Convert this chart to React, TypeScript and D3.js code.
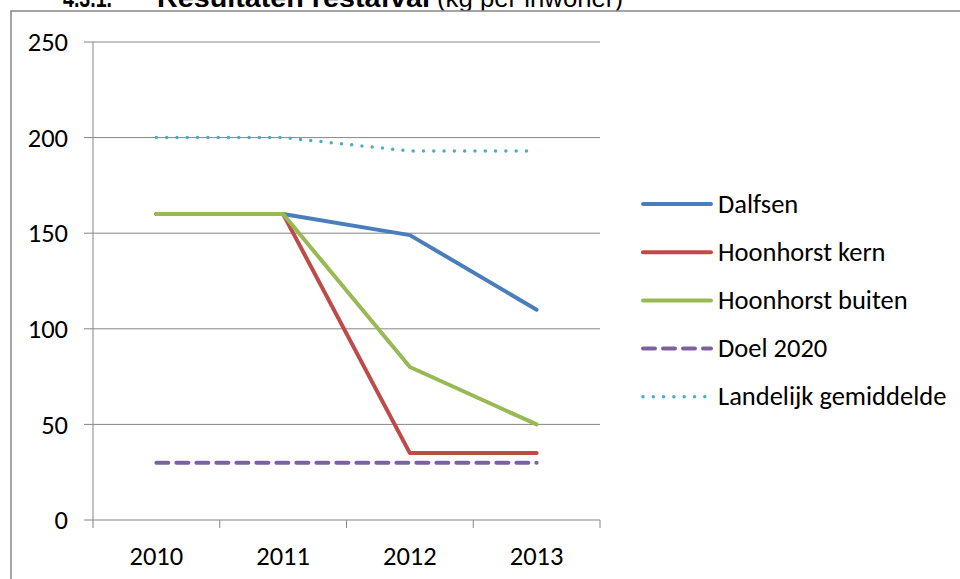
import React from "react";
import * as d3 from "d3";

const years = ["2010", "2011", "2012", "2013"];
const dalfsen = [160, 160, 149, 110];
const hoonhorstKern = [160, 160, 35, 35];
const hoonhorstBuiten = [160, 160, 80, 50];
const doel2020 = [30, 30, 30, 30];
const landelijk = [200, 200, 193, 193];
const yTicks = [0, 50, 100, 150, 200, 250];

const seriesNames = ["Dalfsen", "Hoonhorst kern", "Hoonhorst buiten", "Doel 2020", "Landelijk gemiddelde"];
const seriesValues = [dalfsen, hoonhorstKern, hoonhorstBuiten, doel2020, landelijk];
const seriesColors = ["#4A7EBB", "#BE4B48", "#98B954", "#7D60A0", "#4BACC6"];
const seriesDash = [null, null, null, "12 8", "0 10.3"];

const W = 960;
const H = 579;
const plot = { left: 93, right: 600, top: 42, bottom: 520 };
const FONT = "Carlito, Lato, 'Liberation Sans', sans-serif";
const FS = 26.5;

export default function App() {
  const x = d3.scaleBand<string>().domain(years).range([plot.left, plot.right]);
  const y = d3.scaleLinear().domain([0, 250]).range([plot.bottom, plot.top]);
  const cx = (yr: string) => (x(yr) as number) + x.bandwidth() / 2;
  const line = d3
    .line<number>()
    .x((_, i) => cx(years[i]))
    .y((v) => y(v));

  const gridColor = "#868686";
  const legendX0 = 643;
  const legendX1 = 711;
  const legendY0 = 204;
  const legendStep = 48.2;

  return (
    <svg
      width={W}
      height={H}
      style={{ position: "absolute", left: 0, top: 0, background: "#fff" }}
    >
      {/* Title (partially hidden by chart frame) */}
      <g fontFamily="'Liberation Sans', Arial, sans-serif" fontSize={26} fill="#000">
        <text x={63} y={7} fontWeight="bold" textLength={49} lengthAdjust="spacingAndGlyphs">
          4.3.1.
        </text>
        <text x={157} y={7} fontWeight="bold" textLength={273} lengthAdjust="spacingAndGlyphs">
          Resultaten restafval
        </text>
        <text x={437} y={7} textLength={186} lengthAdjust="spacingAndGlyphs">
          (kg per inwoner)
        </text>
      </g>

      {/* chart frame */}
      <rect x={11} y={11} width={1000} height={700} fill="#fff" stroke={gridColor} strokeWidth={1.5} />

      {/* gridlines */}
      {yTicks.map((t) => (
        <line
          key={"g" + t}
          x1={plot.left - 9}
          x2={plot.right}
          y1={y(t)}
          y2={y(t)}
          stroke={gridColor}
          strokeWidth={1}
        />
      ))}
      {/* y axis */}
      <line x1={plot.left} x2={plot.left} y1={plot.top} y2={plot.bottom} stroke={gridColor} strokeWidth={1} />
      {/* x ticks */}
      {[...years.map((yr) => x(yr) as number), plot.right].map((px, i) => (
        <line key={"xt" + i} x1={px} x2={px} y1={plot.bottom} y2={plot.bottom + 8} stroke={gridColor} strokeWidth={1} />
      ))}

      {/* y labels */}
      <g fontFamily={FONT} fontSize={FS} fill="#000" textAnchor="end">
        {yTicks.map((t) => (
          <text key={"yl" + t} x={68} y={y(t)} dy="0.35em">
            {t}
          </text>
        ))}
      </g>
      {/* x labels */}
      <g fontFamily={FONT} fontSize={FS} fill="#000" textAnchor="middle">
        {years.map((yr) => (
          <text key={"xl" + yr} x={cx(yr)} y={565}>
            {yr}
          </text>
        ))}
      </g>

      {/* series */}
      {seriesValues.map((vals, i) => (
        <path
          key={"s" + i}
          d={line(vals) as string}
          fill="none"
          stroke={seriesColors[i]}
          strokeWidth={i === 4 ? 3.5 : 4}
          strokeLinecap="round"
          strokeLinejoin="round"
          strokeDasharray={seriesDash[i] ?? undefined}
        />
      ))}

      {/* legend */}
      <g fontFamily={FONT} fontSize={FS} fill="#000">
        {seriesNames.map((name, i) => {
          const ly = legendY0 + i * legendStep;
          return (
            <g key={"lg" + i}>
              <line
                x1={legendX0}
                x2={legendX1}
                y1={ly}
                y2={ly}
                stroke={seriesColors[i]}
                strokeWidth={i === 4 ? 3.5 : 4}
                strokeLinecap="round"
                strokeDasharray={seriesDash[i] ?? undefined}
              />
              <text x={718} y={ly + 8.5}>
                {name}
              </text>
            </g>
          );
        })}
      </g>
    </svg>
  );
}
